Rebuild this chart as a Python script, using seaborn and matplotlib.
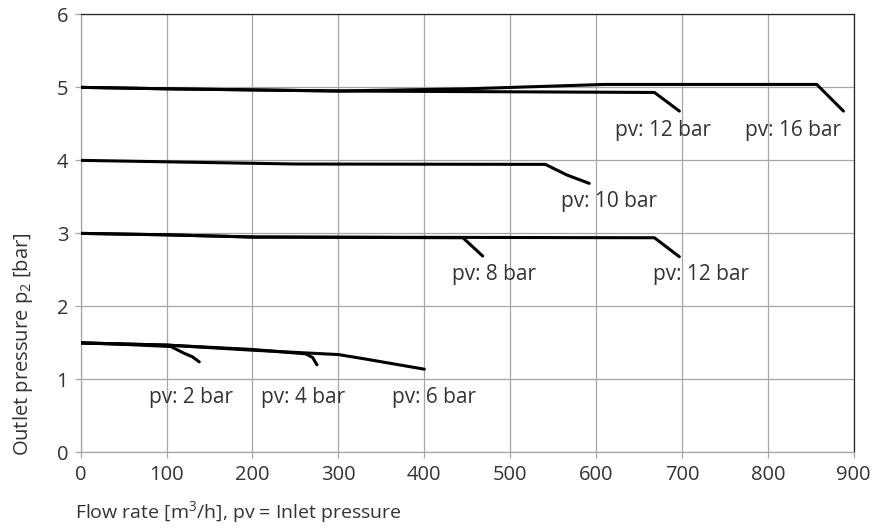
import matplotlib
matplotlib.use("Agg")
import matplotlib.pyplot as plt
import seaborn as sns
import pandas as pd

sns.set_theme(style="white")
plt.rcParams['font.family'] = ['Open Sans', 'DejaVu Sans']
plt.rcParams['mathtext.fontset'] = 'custom'
plt.rcParams['mathtext.rm'] = 'Open Sans'
plt.rcParams['mathtext.it'] = 'Open Sans'

# ---- data ----
pv2_x = [0, 50, 105, 120, 130, 138]
pv2_y = [1.50, 1.48, 1.45, 1.36, 1.31, 1.24]
pv4_x = [0, 100, 200, 262, 270, 275]
pv4_y = [1.50, 1.47, 1.41, 1.35, 1.30, 1.20]
pv6_x = [0, 100, 200, 300, 331, 400]
pv6_y = [1.50, 1.47, 1.40, 1.34, 1.28, 1.14]
pv8_x = [0, 100, 200, 445, 468]
pv8_y = [3.00, 2.98, 2.95, 2.94, 2.69]
pv12a_x = [0, 100, 200, 668, 697]
pv12a_y = [3.00, 2.98, 2.95, 2.94, 2.68]
pv10_x = [0, 100, 250, 541, 566, 592]
pv10_y = [4.00, 3.98, 3.95, 3.945, 3.80, 3.685]
pv12b_x = [0, 100, 300, 668, 697]
pv12b_y = [5.00, 4.98, 4.95, 4.93, 4.675]
pv16_x = [0, 100, 300, 450, 610, 857, 888]
pv16_y = [5.00, 4.98, 4.95, 4.98, 5.04, 5.04, 4.675]

series = [(pv2_x, pv2_y), (pv4_x, pv4_y), (pv6_x, pv6_y), (pv8_x, pv8_y),
          (pv12a_x, pv12a_y), (pv10_x, pv10_y), (pv12b_x, pv12b_y), (pv16_x, pv16_y)]

label_text = ["pv: 2 bar", "pv: 4 bar", "pv: 6 bar", "pv: 8 bar", "pv: 12 bar",
              "pv: 10 bar", "pv: 12 bar", "pv: 16 bar"]
label_x = [128, 259, 411, 481, 722, 615, 678, 829]
label_y = [0.75, 0.75, 0.75, 2.43, 2.43, 3.43, 4.415, 4.415]

x_ticks = [0, 100, 200, 300, 400, 500, 600, 700, 800, 900]
y_ticks = [0, 1, 2, 3, 4, 5, 6]

txt = '#333333'
grid_c = '#a6a6a6'
fig = plt.figure(figsize=(8.89, 5.31), dpi=100)
ax = fig.add_axes([0.0908, 0.148, 0.8695, 0.825])

for xs, ys in series:
    df = pd.DataFrame({'x': xs, 'y': ys})
    sns.lineplot(data=df, x='x', y='y', ax=ax, color='black', lw=2.2,
                 sort=False, estimator=None, zorder=3)

for t, lx, ly in zip(label_text, label_x, label_y):
    ax.text(lx, ly, t, ha='center', va='center', fontsize=15, color=txt, zorder=4)

ax.set_xlim(0, 900)
ax.set_ylim(0, 6)
ax.set_xticks(x_ticks)
ax.set_yticks(y_ticks)
ax.grid(True, color=grid_c, lw=0.9)
ax.set_axisbelow(True)
ax.tick_params(axis='both', labelsize=14.5, labelcolor=txt, color=grid_c, length=4,
               width=0.9, direction='out', bottom=True, left=True)
ax.tick_params(axis='x', pad=5)
ax.tick_params(axis='y', pad=5)
ax.spines['left'].set_color(grid_c)
ax.spines['bottom'].set_color(grid_c)
ax.spines['top'].set_color('#222222')
ax.spines['right'].set_color('#222222')
for s in ax.spines.values():
    s.set_linewidth(0.9)
ax.set_xlabel('')
ax.set_ylabel('')

fig.text(23 / 889, 1 - 456 / 531, 'Outlet pressure p$_2$ [bar]', rotation=90,
         ha='center', va='bottom', fontsize=14.5, color=txt)
fig.text(75 / 889, 1 - 512 / 531, 'Flow rate [m$^3$/h], pv = Inlet pressure',
         ha='left', va='center', fontsize=14, color=txt)

fig.savefig('out.png', dpi=100)
